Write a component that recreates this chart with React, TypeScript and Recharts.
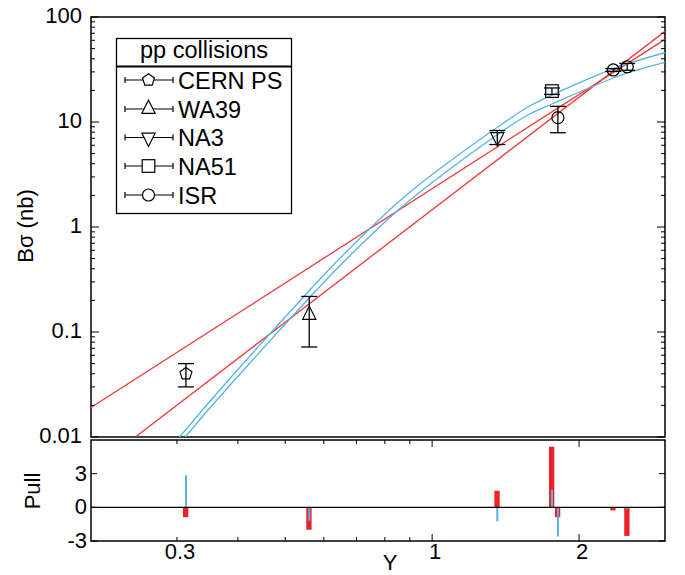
import React from "react";
import {
  ComposedChart,
  Line,
  Scatter,
  ErrorBar,
  Bar,
  XAxis,
  YAxis,
  ReferenceArea,
  ReferenceLine,
} from "recharts";

const FONT = "'Liberation Sans', Arial, Helvetica, sans-serif";
const RED = "#ef3a3a";
const BLUE = "#55b2e4";
const BAR_RED = "#ec2227";

// measured points
const experiments = ["CERN PS", "WA39", "NA3", "NA51", "ISR", "ISR", "ISR"];
const pointX = [0.313, 0.56, 1.36, 1.76, 1.81, 2.35, 2.51];
const pointY = [0.04, 0.145, 7.2, 19.7, 11.0, 31.3, 33.6];
const pointErr = [0.01, 0.073, 1.1, 1.4, 3.1, 1.0, 2.5];

// fits (red = power laws, blue = curved fits)
const redAX = [0.2, 3];
const redAY = [0.0191, 61.2];
const redBX = [0.2466, 3];
const redBY = [0.01, 73];
const blueAX = [0.3037, 0.3823, 0.5598, 0.6776, 0.8054, 1, 1.437, 1.756, 2.344, 3];
const blueAY = [0.01, 0.0347, 0.247, 0.625, 1.358, 3.16, 10.64, 17.95, 32.0, 45.7];
const blueBX = [0.3119, 0.3823, 0.5598, 0.6776, 0.8054, 1, 1.437, 1.756, 2.344, 3];
const blueBY = [0.01, 0.0299, 0.211, 0.53, 1.146, 2.65, 9.02, 14.76, 26.1, 37.0];

// pulls
const pullRed = [-0.88, -2.0, 1.48, 5.4, -0.88, -0.27, -2.55];
const pullBlue = [2.85, -1.18, -1.24, 1.55, -2.6, 0, -0.18];

// ticks
const yMajor = [0.01, 0.1, 1, 10, 100];
const yMinor = [0.01, 0.1, 1, 10].flatMap((d) =>
  [2, 3, 4, 5, 6, 7, 8, 9].map((k) => +(d * k).toPrecision(3))
);
const yTicks = [...yMajor, ...yMinor];
const xTicks = [0.3, 0.4, 0.5, 0.6, 0.7, 0.8, 0.9, 1, 2];
const xMajor = [1, 2];
const xLabels = [0.3, 1, 2];
const pullTicks = [-3, 0, 3];

const legendItems = ["CERN PS", "WA39", "NA3", "NA51", "ISR"];

const points = pointX.map((x, i) => ({
  x,
  y: pointY[i],
  err: pointErr[i],
  exp: experiments[i],
}));
const rows = (xs: number[], ys: number[]) => xs.map((x, i) => ({ x, y: ys[i] }));
const pullRows = pointX.map((x, i) => ({ x, red: pullRed[i], blue: pullBlue[i] }));

// plot box (main chart svg coords = page coords)
const PL = 91;
const PR = 665;
const PT = 17;
const PB = 437;
// pull panel box, in its own svg
const QT = 3;
const QB = 104;

function MarkerShape({ kind, cx, cy, fill }: any) {
  const s = { fill, stroke: "#000", strokeWidth: 1.2 };
  if (kind === "CERN PS") {
    const r = 6.3;
    const pts = [0, 1, 2, 3, 4]
      .map((k) => {
        const a = -Math.PI / 2 + (k * 2 * Math.PI) / 5;
        return `${cx + r * Math.cos(a)},${cy + r * Math.sin(a)}`;
      })
      .join(" ");
    return <polygon points={pts} {...s} />;
  }
  if (kind === "WA39")
    return <polygon points={`${cx},${cy - 9} ${cx - 6.6},${cy + 4.3} ${cx + 6.6},${cy + 4.3}`} {...s} />;
  if (kind === "NA3")
    return <polygon points={`${cx},${cy + 9} ${cx - 6.6},${cy - 4.3} ${cx + 6.6},${cy - 4.3}`} {...s} />;
  if (kind === "NA51") return <rect x={cx - 6.3} y={cy - 6.3} width={12.6} height={12.6} {...s} />;
  return <circle cx={cx} cy={cy} r={6} {...s} />;
}

function PointMarker(props: any) {
  const { cx, cy, payload } = props;
  return <MarkerShape kind={payload.exp} cx={cx} cy={cy} fill="none" />;
}

function MainYTick({ y, payload }: any) {
  const v = payload.value;
  const major = yMajor.includes(v);
  const len = major ? 8 : 4;
  return (
    <g>
      <line x1={PL} x2={PL + len} y1={y} y2={y} stroke="#000" strokeWidth={1} />
      <line x1={PR - len} x2={PR} y1={y} y2={y} stroke="#000" strokeWidth={1} />
      {major && (
        <text x={PL - 9} y={y + 6} textAnchor="end" fontSize={22} fontFamily={FONT} fill="#000">
          {String(v)}
        </text>
      )}
    </g>
  );
}

function MainXTick({ x, payload }: any) {
  const len = xMajor.includes(payload.value) ? 7 : 4;
  return (
    <g>
      <line x1={x} x2={x} y1={PB} y2={PB - len} stroke="#000" strokeWidth={1} />
      <line x1={x} x2={x} y1={PT} y2={PT + len} stroke="#000" strokeWidth={1} />
    </g>
  );
}

function PullXTick({ x, payload }: any) {
  const v = payload.value;
  const len = xMajor.includes(v) ? 7 : 4;
  return (
    <g>
      <line x1={x} x2={x} y1={QB} y2={QB - len} stroke="#000" strokeWidth={1} />
      <line x1={x} x2={x} y1={QT} y2={QT + len} stroke="#000" strokeWidth={1} />
      {xLabels.includes(v) && (
        <text x={x + 3} y={122} textAnchor="middle" fontSize={22} fontFamily={FONT} fill="#000">
          {String(v)}
        </text>
      )}
    </g>
  );
}

function PullYTick({ y, payload }: any) {
  return (
    <g>
      <line x1={PL} x2={PL + 6} y1={y} y2={y} stroke="#000" strokeWidth={1} />
      <line x1={PR - 6} x2={PR} y1={y} y2={y} stroke="#000" strokeWidth={1} />
      <text x={87} y={y + 7} textAnchor="end" fontSize={22} fontFamily={FONT} fill="#000">
        {String(payload.value)}
      </text>
    </g>
  );
}

function Overlay() {
  const rowY = [80, 109, 137.5, 166, 195];
  return (
    <svg
      width={685}
      height={575}
      style={{ position: "absolute", left: 0, top: 0, pointerEvents: "none" }}
      fontFamily={FONT}
    >
      <text transform="translate(32.5,226) rotate(-90)" textAnchor="middle" fontSize={22} fill="#000">
        Bσ (nb)
      </text>
      <text transform="translate(40,491) rotate(-90)" textAnchor="middle" fontSize={22} fill="#000">
        Pull
      </text>
      <text x={390} y={570} textAnchor="middle" fontSize={22} fill="#000">
        Y
      </text>

      <rect x={116.5} y={38.5} width={175} height={175} fill="#fff" stroke="#000" strokeWidth={1.3} />
      <line x1={116.5} x2={291.5} y1={66.5} y2={66.5} stroke="#000" strokeWidth={2} />
      <text x={204} y={58} textAnchor="middle" fontSize={23.5} fill="#000">
        pp collisions
      </text>
      {legendItems.map((name, i) => (
        <g key={name}>
          <line x1={125} x2={173} y1={rowY[i]} y2={rowY[i]} stroke="#000" strokeWidth={1.2} />
          <line x1={125} x2={125} y1={rowY[i] - 3} y2={rowY[i] + 3} stroke="#000" strokeWidth={1.2} />
          <line x1={173} x2={173} y1={rowY[i] - 3} y2={rowY[i] + 3} stroke="#000" strokeWidth={1.2} />
          <MarkerShape kind={name} cx={148.5} cy={rowY[i]} fill="#fff" />
          <text x={178} y={rowY[i] + 8.5} fontSize={23.5} fill="#000">
            {name}
          </text>
        </g>
      ))}
    </svg>
  );
}

export default function App() {
  return (
    <div
      style={{
        position: "absolute",
        left: 0,
        top: 0,
        width: 685,
        height: 575,
        background: "#fff",
        overflow: "hidden",
        fontFamily: FONT,
      }}
    >
      <div style={{ position: "absolute", left: 0, top: 0 }}>
        <ComposedChart width={685} height={460} margin={{ top: 17, right: 20, bottom: 23, left: 0 }}>
          <XAxis
            dataKey="x"
            type="number"
            scale="log"
            domain={[0.2, 3]}
            allowDataOverflow
            ticks={xTicks}
            interval={0}
            height={0}
            axisLine={false}
            tickLine={false}
            tick={<MainXTick />}
          />
          <YAxis
            type="number"
            scale="log"
            domain={[0.01, 100]}
            allowDataOverflow
            ticks={yTicks}
            interval={0}
            width={91}
            axisLine={false}
            tickLine={false}
            tick={<MainYTick />}
          />
          <ReferenceArea x1={0.2} x2={3} y1={0.01} y2={100} fill="none" stroke="#000" strokeWidth={1.5} />
          <Line data={rows(redAX, redAY)} dataKey="y" type="linear" stroke={RED} strokeWidth={1.3} dot={false} isAnimationActive={false} />
          <Line data={rows(redBX, redBY)} dataKey="y" type="linear" stroke={RED} strokeWidth={1.3} dot={false} isAnimationActive={false} />
          <Line data={rows(blueAX, blueAY)} dataKey="y" type="natural" stroke={BLUE} strokeWidth={1.3} dot={false} isAnimationActive={false} />
          <Line data={rows(blueBX, blueBY)} dataKey="y" type="natural" stroke={BLUE} strokeWidth={1.3} dot={false} isAnimationActive={false} />
          <Scatter data={points} dataKey="y" shape={<PointMarker />} isAnimationActive={false}>
            <ErrorBar dataKey="err" direction="y" width={8} stroke="#000" strokeWidth={1.3} />
          </Scatter>
        </ComposedChart>
      </div>

      <div style={{ position: "absolute", left: 0, top: 437 }}>
        <ComposedChart width={685} height={138} data={pullRows} margin={{ top: 3, right: 20, bottom: 0, left: 0 }}>
          <XAxis
            xAxisId="a"
            dataKey="x"
            type="number"
            scale="log"
            domain={[0.2, 3]}
            allowDataOverflow
            ticks={xTicks}
            interval={0}
            height={34}
            axisLine={false}
            tickLine={false}
            tick={<PullXTick />}
          />
          <XAxis xAxisId="b" dataKey="x" type="number" scale="log" domain={[0.2, 3]} allowDataOverflow hide />
          <YAxis
            type="number"
            domain={[-3, 6]}
            allowDataOverflow
            ticks={pullTicks}
            interval={0}
            width={91}
            axisLine={false}
            tickLine={false}
            tick={<PullYTick />}
          />
          <ReferenceArea xAxisId="a" x1={0.2} x2={3} y1={-3} y2={6} fill="none" stroke="#000" strokeWidth={1.5} />
          <ReferenceLine xAxisId="a" y={0} stroke="#000" strokeWidth={1.2} />
          <Bar xAxisId="a" dataKey="red" fill={BAR_RED} barSize={7} isAnimationActive={false} />
          <Bar xAxisId="b" dataKey="blue" fill={BLUE} barSize={2} isAnimationActive={false} />
        </ComposedChart>
      </div>

      <Overlay />
    </div>
  );
}
